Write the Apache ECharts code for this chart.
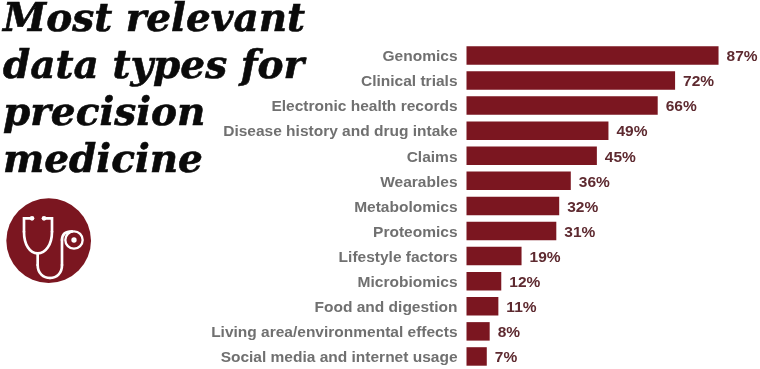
<!DOCTYPE html>
<html>
<head>
<meta charset="utf-8">
<style>
html, body { margin: 0; padding: 0; background: #fff; }
#chart { width: 760px; height: 369px; }
</style>
<script src="https://cdn.jsdelivr.net/npm/echarts@6/dist/echarts.min.js"></script>
</head>
<body>
<div id="chart"></div>
<script>
var categories = ['Genomics', 'Clinical trials', 'Electronic health records', 'Disease history and drug intake', 'Claims', 'Wearables', 'Metabolomics', 'Proteomics', 'Lifestyle factors', 'Microbiomics', 'Food and digestion', 'Living area/environmental effects', 'Social media and internet usage'];
var shares = [87, 72, 66, 49, 45, 36, 32, 31, 19, 12, 11, 8, 7];
var titleText = 'Most relevant\ndata types for\nprecision\nmedicine';

var RED = '#7b1620';
var tube = { fill: 'none', stroke: '#fff', lineWidth: 8, lineCap: 'round' };

function curve(x1, y1, cpx1, cpy1, cpx2, cpy2, x2, y2) {
    return { type: 'bezierCurve', shape: { x1: x1, y1: y1, cpx1: cpx1, cpy1: cpy1, cpx2: cpx2, cpy2: cpy2, x2: x2, y2: y2 }, style: tube };
}
function straight(points) {
    return { type: 'polyline', shape: { points: points }, style: tube };
}

var myChart = echarts.init(document.getElementById('chart'), null, { renderer: 'canvas' });
myChart.setOption({
    animation: false,
    backgroundColor: '#fff',
    title: {
        text: titleText,
        left: 3,
        top: -3,
        padding: 0,
        textStyle: {
            fontFamily: 'DejaVu Serif',
            fontStyle: 'italic',
            fontWeight: 'bold',
            fontSize: 39,
            lineHeight: 47,
            color: '#0a0a0a',
            textBorderColor: '#0a0a0a',
            textBorderWidth: 0.6
        }
    },
    grid: { left: 466.5, top: 42.9, width: 289.7, height: 328.2 },
    xAxis: { type: 'value', min: 0, max: 100, show: false },
    yAxis: {
        type: 'category',
        inverse: true,
        data: categories,
        axisLine: { show: false },
        axisTick: { show: false },
        axisLabel: {
            margin: 9,
            verticalAlign: 'top',
            lineHeight: 3,
            color: '#707070',
            fontFamily: 'Liberation Sans',
            fontWeight: 'bold',
            fontSize: 15.5
        }
    },
    series: [{
        type: 'bar',
        data: shares,
        barWidth: 18.5,
        itemStyle: { color: RED },
        label: {
            show: true,
            position: 'right',
            distance: 8,
            offset: [0, 1.5],
            formatter: '{c}%',
            color: '#5e2a30',
            fontFamily: 'Liberation Sans',
            fontWeight: 'bold',
            fontSize: 15.5
        }
    }],
    // stethoscope badge
    graphic: [{
        type: 'group',
        x: 0,
        y: 190,
        scaleX: 1 / 3,
        scaleY: 1 / 3,
        children: [
            { type: 'circle', shape: { cx: 146, cy: 152, r: 127 }, style: { fill: RED } },
            straight([[96, 85], [72, 85], [72, 125]]),
            curve(72, 125, 72, 165, 90, 190, 113, 190),
            curve(113, 190, 136, 190, 156, 165, 156, 125),
            straight([[156, 125], [156, 85], [132, 85]]),
            straight([[113, 190], [113, 225]]),
            curve(113, 225, 113, 250, 130, 264, 150, 264),
            curve(150, 264, 170, 264, 186, 250, 186, 225),
            straight([[186, 225], [186, 150]]),
            curve(186, 150, 186, 132, 198, 124, 216, 124),
            { type: 'circle', shape: { cx: 96, cy: 85, r: 7 }, style: { fill: '#fff' } },
            { type: 'circle', shape: { cx: 132, cy: 85, r: 7 }, style: { fill: '#fff' } },
            { type: 'circle', shape: { cx: 222, cy: 150, r: 26 }, style: { fill: 'none', stroke: '#fff', lineWidth: 7 } },
            { type: 'circle', shape: { cx: 222, cy: 150, r: 8 }, style: { fill: '#fff' } }
        ]
    }]
});
</script>
</body>
</html>
